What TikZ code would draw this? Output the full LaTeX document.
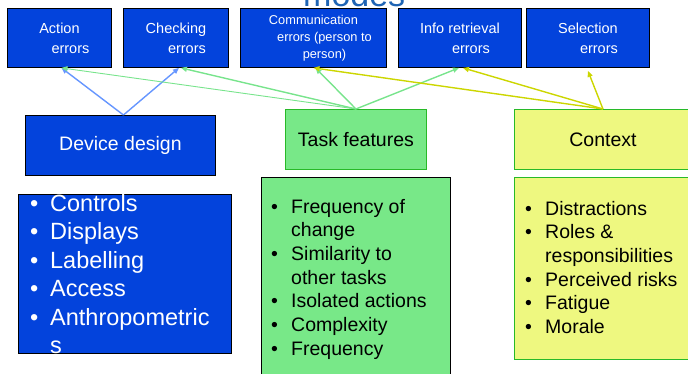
\documentclass[tikz,border=0pt]{standalone}
\usepackage{fontspec}
\setmainfont{Liberation Sans}
\usetikzlibrary{arrows.meta}
\definecolor{boxblue}{RGB}{3,67,220}
\definecolor{boxgreen}{RGB}{120,232,136}
\definecolor{boxyellow}{RGB}{238,248,128}
\definecolor{edgegreen}{RGB}{40,185,40}
\definecolor{arrblue}{RGB}{102,150,255}
\definecolor{arrgreen}{RGB}{120,228,140}
\definecolor{arryellow}{RGB}{204,214,0}
\definecolor{titleblue}{RGB}{30,100,180}
\newcommand\blt{\makebox[20pt][l]{\textbullet}}
\newcommand\ind{\hspace*{20pt}}
\tikzset{
  errbox/.style={draw=black, line width=0.9pt, fill=boxblue, text=white, anchor=north west,
    minimum height=59pt, inner sep=0pt, align=center, font=\fontsize{14.5}{20}\selectfont},
  factbox/.style={line width=0.9pt, anchor=north west, inner sep=0pt, minimum height=60pt,
    font=\fontsize{19.5}{24}\selectfont},
  listbox/.style={line width=0.9pt, anchor=north west, inner sep=0pt},
  listtext/.style={anchor=north west, inner sep=0pt, align=left},
  conn/.style={-{Triangle[length=6pt,width=5pt]}, line width=1.4pt},
  barrow/.style={conn, draw=arrblue},
  garrow/.style={conn, draw=arrgreen},
  yarrow/.style={conn, draw=arryellow},
}
\begin{document}
\begin{tikzpicture}[x=1pt,y=-1pt]
\useasboundingbox (0,0) rectangle (688,374);
\clip (0,0) rectangle (688,374);

\node[anchor=base west, inner sep=0pt, text=titleblue, font=\fontsize{34}{40}\selectfont] (ttl) at (303,7) {modes};

% top error boxes
\node[errbox, minimum width=104pt] (act) at (7,8) {Action\\\hspace*{22pt}errors};
\node[errbox, minimum width=105pt] (chk) at (123,8) {Checking\\\hspace*{22pt}errors};
\node[errbox, minimum width=146pt, font=\fontsize{12.8}{17}\selectfont] (comm) at (240,8)
  {Communication\\\hspace*{22pt}errors (person to\\\hspace*{22pt}person)};
\node[errbox, minimum width=123pt] (info) at (398,8) {Info retrieval\\\hspace*{22pt}errors};
\node[errbox, minimum width=123pt] (sel) at (526,8) {Selection\\\hspace*{22pt}errors};

% factor boxes
\node[factbox, draw=black, fill=boxblue, text=white, minimum width=190pt] (dd) at (25,115) {\raisebox{-2pt}{Device design}};
\node[factbox, draw=edgegreen, fill=boxgreen, minimum width=141pt] (tf) at (285,109) {Task features};
\node[factbox, draw=edgegreen, fill=boxyellow, minimum width=177pt] (ctx) at (514,109) {Context};

% list boxes
\node[listbox, draw=black, fill=boxblue, minimum width=213pt, minimum height=159pt] (dl) at (18,194) {};
\node[listbox, draw=black, fill=boxgreen, minimum width=189pt, minimum height=210pt] (tl) at (261,177) {};
\node[listbox, draw=edgegreen, fill=boxyellow, minimum width=177pt, minimum height=182pt] (cl) at (514,177) {};

\node[listtext, text=white, font=\fontsize{23.5}{28.5}\selectfont] (dlt) at (30,191.05)
  {\blt\strut Controls\\\blt Displays\\\blt Labelling\\\blt Access\\\blt Anthropometric\\\ind s};
\node[listtext, font=\fontsize{19.5}{23.7}\selectfont] (tlt) at (271,196.4)
  {\blt\strut Frequency of\\\ind change\\\blt Similarity to\\\ind other tasks\\\blt Isolated actions\\\blt Complexity\\\blt Frequency};
\node[listtext, font=\fontsize{19.5}{23.7}\selectfont] (clt) at (525,198.4)
  {\blt\strut Distractions\\\blt Roles \&\\\ind responsibilities\\\blt Perceived risks\\\blt Fatigue\\\blt Morale};

% connectors
\draw[barrow] ([xshift=3pt]dd.north) -- ([xshift=2pt]act.south);
\draw[barrow] ([xshift=3pt]dd.north) -- ([xshift=3pt]chk.south);
\draw[garrow, line width=0.9pt] (tf.north) -- ([xshift=2pt]act.south);
\draw[garrow] (tf.north) -- ([xshift=5pt]chk.south);
\draw[garrow] (tf.north) -- ([xshift=2pt]comm.south);
\draw[garrow] (tf.north) -- ([xshift=-1pt]info.south);
\draw[yarrow] (ctx.north) -- (comm.south);
\draw[yarrow] (ctx.north) -- ([xshift=3pt]info.south);
\draw[yarrow] (ctx.north) -- ([yshift=-3pt]sel.south);
\end{tikzpicture}
\end{document}
